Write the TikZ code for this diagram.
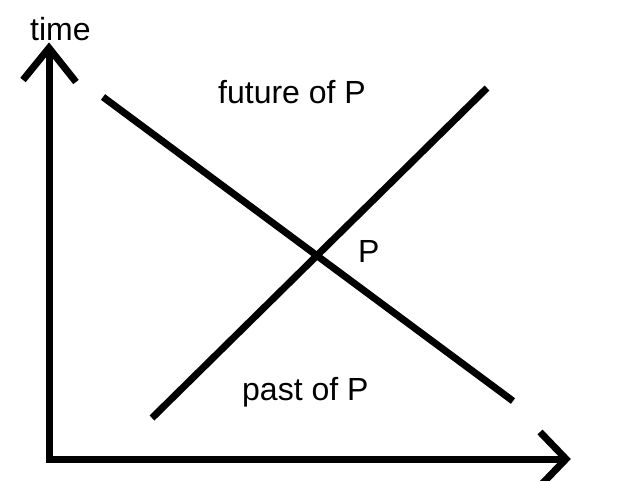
\documentclass[tikz,border=0pt]{standalone}
\usepackage{fontspec}
\setmainfont{Liberation Sans}
\begin{document}
\begin{tikzpicture}[x=1pt,y=-1pt,
  thick line/.style={line width=7pt, black},
  lbl/.style={anchor=base west, inner sep=0pt, font=\fontsize{32}{38}\selectfont}]
\useasboundingbox (0,0) rectangle (640,480);
% axes
\coordinate (ytip) at (49,48);
\coordinate (origin) at (49,459);
\coordinate (xtip) at (566,459);
\coordinate (yl) at (23,80);
\coordinate (yr) at (76,82);
\coordinate (xu) at (540,432);
\coordinate (xd) at (540,486);
\draw[thick line, line join=miter] (ytip) -- (origin) -- (xtip);
\draw[thick line, line join=miter] (yl) -- (ytip) -- (yr);
\draw[thick line, line join=miter] (xu) -- (xtip) -- (xd);
% light cone lines
\coordinate (a1) at (103,97);
\coordinate (a2) at (513,401);
\coordinate (b1) at (152,418);
\coordinate (b2) at (487,88);
\draw[thick line] (a1) -- (a2);
\draw[thick line] (b1) -- (b2);
% labels
\node[lbl] (time) at (30,40) {time};
\node[lbl] (future) at (218,103) {future of P};
\node[lbl] (past) at (242,400) {past of P};
\node[lbl] (P) at (358,262) {P};
\end{tikzpicture}
\end{document}
